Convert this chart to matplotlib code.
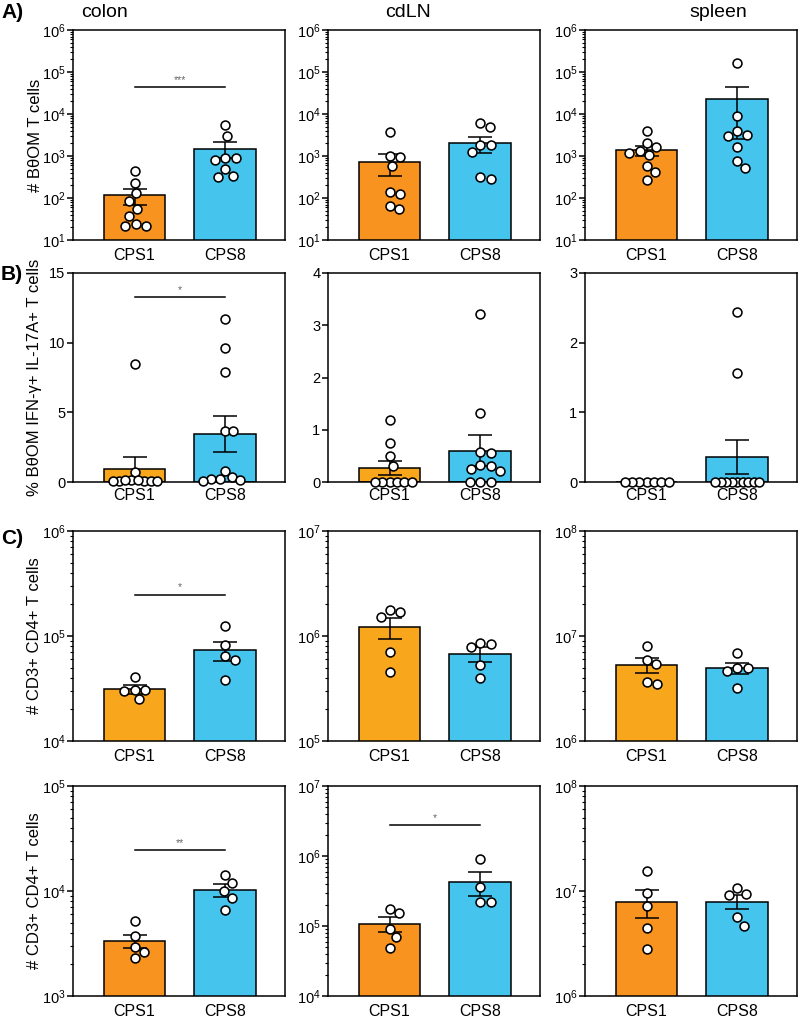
import numpy as np
import matplotlib
matplotlib.use("Agg")
import matplotlib.pyplot as plt
from matplotlib.ticker import LogLocator, LogFormatterSciNotation, NullFormatter, MultipleLocator

plt.rcParams["font.family"] = ["Liberation Sans", "DejaVu Sans"]
plt.rcParams["mathtext.default"] = "regular"

groups = ["CPS1", "CPS8"]
ORANGE = "#F7931E"
LIGHT_ORANGE = "#F8A61C"
BLUE = "#45C4EE"

# A) # BθOM T cells
a_colon_cps1 = [448, 228, 129, 83, 56, 38, 24, 21, 21]
a_colon_cps8 = [5370, 3050, 912, 789, 912, 490, 316, 340]
a_colon_mean = [116, 1500]
a_colon_sem = [47, 620]

a_cdln_cps1 = [3660, 1018, 930, 578, 136, 122, 54, 66]
a_cdln_cps8 = [4900, 6220, 1795, 1268, 1795, 288, 316]
a_cdln_mean = [715, 2000]
a_cdln_sem = [380, 820]

a_spleen_cps1 = [4010, 1637, 2077, 1200, 1037, 1340, 578, 416, 263]
a_spleen_cps8 = [166800, 8960, 4010, 2994, 3162, 1668, 774, 527]
a_spleen_mean = [1390, 23300]
a_spleen_sem = [380, 20800]

# B) % BθOM IFN-γ+ IL-17A+ T cells
b_colon_cps1 = [8.44, 0.74, 0.12, 0.1, 0.1, 0.1, 0.1, 0.1, 0.12, 0.15]
b_colon_cps8 = [11.7, 9.6, 7.9, 3.64, 3.64, 0.79, 0.33, 0.2, 0.1, 0.15, 0.24]
b_colon_mean = [0.91, 3.45]
b_colon_sem = [0.86, 1.32]

b_cdln_cps1 = [1.18, 0.75, 0.49, 0.31, 0, 0, 0, 0, 0, 0]
b_cdln_cps8 = [3.21, 1.32, 0.57, 0.56, 0.33, 0.3, 0.25, 0.21, 0, 0, 0]
b_cdln_mean = [0.27, 0.60]
b_cdln_sem = [0.135, 0.30]

b_spleen_cps1 = [0, 0, 0, 0, 0, 0, 0]
b_spleen_cps8 = [2.44, 1.57, 0, 0, 0, 0, 0, 0, 0, 0, 0]
b_spleen_mean = [0, 0.36]
b_spleen_sem = [0, 0.25]

# C) # CD3+ CD4+ T cells (upper row)
c1_colon_cps1 = [40700, 30380, 29940, 30830, 24940]
c1_colon_cps8 = [123600, 81500, 64500, 59000, 38400]
c1_colon_mean = [31300, 73300]
c1_colon_sem = [3000, 15000]

c1_cdln_cps1 = [1.758e6, 1.53e6, 1.68e6, 7.03e5, 4.5e5]
c1_cdln_cps8 = [8.45e5, 7.91e5, 8.64e5, 5.24e5, 4.0e5]
c1_cdln_mean = [1.22e6, 6.8e5]
c1_cdln_sem = [2.8e5, 1.1e5]

c1_spleen_cps1 = [8.09e6, 5.91e6, 5.37e6, 3.52e6, 3.65e6]
c1_spleen_cps8 = [6.88e6, 4.92e6, 4.64e6, 4.99e6, 3.22e6]
c1_spleen_mean = [5.3e6, 4.93e6]
c1_spleen_sem = [8.5e5, 6.0e5]

# C) # CD3+ CD4+ T cells (lower row)
c2_colon_cps1 = [5220, 3755, 2905, 2605, 2285]
c2_colon_cps8 = [14200, 11830, 10000, 8510, 6590]
c2_colon_mean = [3350, 10200]
c2_colon_sem = [500, 1400]

c2_cdln_cps1 = [1.535e5, 1.77e5, 9.16e4, 6.97e4, 4.85e4]
c2_cdln_cps8 = [9.16e5, 3.61e5, 2.23e5, 2.23e5]
c2_cdln_mean = [1.08e5, 4.3e5]
c2_cdln_sem = [2.5e4, 1.65e5]

c2_spleen_cps1 = [1.54e7, 9.57e6, 7.2e6, 4.44e6, 2.8e6]
c2_spleen_cps8 = [9.36e6, 9.23e6, 1.077e7, 5.61e6, 4.68e6]
c2_spleen_mean = [7.88e6, 7.9e6]
c2_spleen_sem = [2.3e6, 1.2e6]

tissues = ["colon", "cdLN", "spleen"]
row_labels = ["# BθOM T cells", "% BθOM IFN-γ+ IL-17A+ T cells",
              "# CD3+ CD4+ T cells", "# CD3+ CD4+ T cells"]

panels = [
    # row, col, points, mean, sem, ylim, log, orange, significance
    (0, 0, (a_colon_cps1, a_colon_cps8), a_colon_mean, a_colon_sem, (1e1, 1e6), True, ORANGE, ("***", 4.4e4)),
    (0, 1, (a_cdln_cps1, a_cdln_cps8), a_cdln_mean, a_cdln_sem, (1e1, 1e6), True, ORANGE, None),
    (0, 2, (a_spleen_cps1, a_spleen_cps8), a_spleen_mean, a_spleen_sem, (1e1, 1e6), True, ORANGE, None),
    (1, 0, (b_colon_cps1, b_colon_cps8), b_colon_mean, b_colon_sem, (0, 15), False, LIGHT_ORANGE, ("*", 13.28)),
    (1, 1, (b_cdln_cps1, b_cdln_cps8), b_cdln_mean, b_cdln_sem, (0, 4), False, LIGHT_ORANGE, None),
    (1, 2, (b_spleen_cps1, b_spleen_cps8), b_spleen_mean, b_spleen_sem, (0, 3), False, LIGHT_ORANGE, None),
    (2, 0, (c1_colon_cps1, c1_colon_cps8), c1_colon_mean, c1_colon_sem, (1e4, 1e6), True, LIGHT_ORANGE, ("*", 2.48e5)),
    (2, 1, (c1_cdln_cps1, c1_cdln_cps8), c1_cdln_mean, c1_cdln_sem, (1e5, 1e7), True, LIGHT_ORANGE, None),
    (2, 2, (c1_spleen_cps1, c1_spleen_cps8), c1_spleen_mean, c1_spleen_sem, (1e6, 1e8), True, LIGHT_ORANGE, None),
    (3, 0, (c2_colon_cps1, c2_colon_cps8), c2_colon_mean, c2_colon_sem, (1e3, 1e5), True, ORANGE, ("**", 2.46e4)),
    (3, 1, (c2_cdln_cps1, c2_cdln_cps8), c2_cdln_mean, c2_cdln_sem, (1e4, 1e7), True, ORANGE, ("*", 2.74e6)),
    (3, 2, (c2_spleen_cps1, c2_spleen_cps8), c2_spleen_mean, c2_spleen_sem, (1e6, 1e8), True, ORANGE, None),
]

W, H = 800, 1018
row_px = [(30, 240), (273, 482), (531, 741), (786, 996)]
col_px = [73, 328, 585]
AX_W = 212
BAR_W = 0.68
LW = 1.1


def swarm(ax, xc, vals, d=10.5, half=22):
    # simple beeswarm in pixel space, squeezed when too wide
    vals = np.asarray(vals, float)
    ys = ax.transData.transform(np.column_stack([np.full(len(vals), xc), vals]))[:, 1]
    order = np.argsort(-ys, kind="stable")
    placed = []
    offs = np.zeros(len(vals))
    for i in order:
        y = ys[i]
        cands = [0.0]
        for px, py in placed:
            dy = y - py
            if abs(dy) < d:
                dx = np.sqrt(d * d - dy * dy)
                cands += [px + dx, px - dx]
        cands.sort(key=abs)
        c = cands[0]
        for c in cands:
            if all((c - px) ** 2 + (y - py) ** 2 >= d * d - 1e-6 for px, py in placed):
                break
        offs[i] = c
        placed.append((c, y))
    m = np.abs(offs).max()
    if m > half:
        offs *= half / m
    x0, x1 = ax.get_xlim()
    return xc + offs * (x1 - x0) / ax.bbox.width


fig = plt.figure(figsize=(W / 100, H / 100), dpi=100)

for row, col, pts, mean, sem, ylim, log, orange, sig in panels:
    top, bottom = row_px[row]
    ax = fig.add_axes([col_px[col] / W, 1 - bottom / H, AX_W / W, (bottom - top) / H])
    x = np.arange(len(groups))
    ax.set_xlim(-0.68, 1.66)
    if log:
        ax.set_yscale("log")
    ax.set_ylim(*ylim)

    ax.bar(x, mean, width=BAR_W, color=[orange, BLUE], edgecolor="black", linewidth=LW, zorder=2)
    ax.errorbar(x, mean, yerr=sem, fmt="none", ecolor="black", elinewidth=LW,
                capsize=8.3, capthick=LW, zorder=3)
    for i, vals in enumerate(pts):
        xs = swarm(ax, x[i], vals)
        ax.plot(xs, vals, "o", ms=6.4, mfc="white", mec="black", mew=1.15,
                zorder=4, clip_on=False)

    if sig is not None:
        label, ys = sig
        ax.plot([0, 1], [ys, ys], color="black", lw=LW, zorder=3)
        ax.annotate(label, (0.5, ys), xytext=(0, 1.5), textcoords="offset points",
                    ha="center", va="bottom", fontsize=7.5, color="#666666")

    for s in ax.spines.values():
        s.set_linewidth(LW)
    ax.set_xticks(x)
    ax.set_xticklabels(groups)
    ax.tick_params(axis="x", length=0, labelsize=11.5, pad=4 if row == 1 else 6)
    ax.tick_params(axis="y", which="major", length=4, width=LW, labelsize=10.5, pad=1.5)
    ax.tick_params(axis="y", which="minor", length=2, width=0.8)
    if log:
        ax.yaxis.set_major_locator(LogLocator(base=10, numticks=12))
        ax.yaxis.set_major_formatter(LogFormatterSciNotation())
        ax.yaxis.set_minor_locator(LogLocator(base=10, subs=np.arange(2, 10), numticks=12))
        ax.yaxis.set_minor_formatter(NullFormatter())
    else:
        ax.yaxis.set_major_locator(MultipleLocator(5 if ylim[1] > 5 else 1))

    if col == 0:
        fig.text(35 / W, 1 - (top + bottom) / 2 / H, row_labels[row], rotation=90,
                 ha="center", va="center", fontsize=12)

for name, xc in zip(tissues, [104, 408, 718]):
    fig.text(xc / W, 1 - 17 / H, name, ha="center", va="baseline", fontsize=14)

for letter, yc in zip(["A)", "B)", "C)"], [12, 274, 538]):
    fig.text(1 / W, 1 - yc / H, letter, ha="left", va="center", fontsize=15, fontweight="bold")

fig.savefig("out.png", dpi=100)
